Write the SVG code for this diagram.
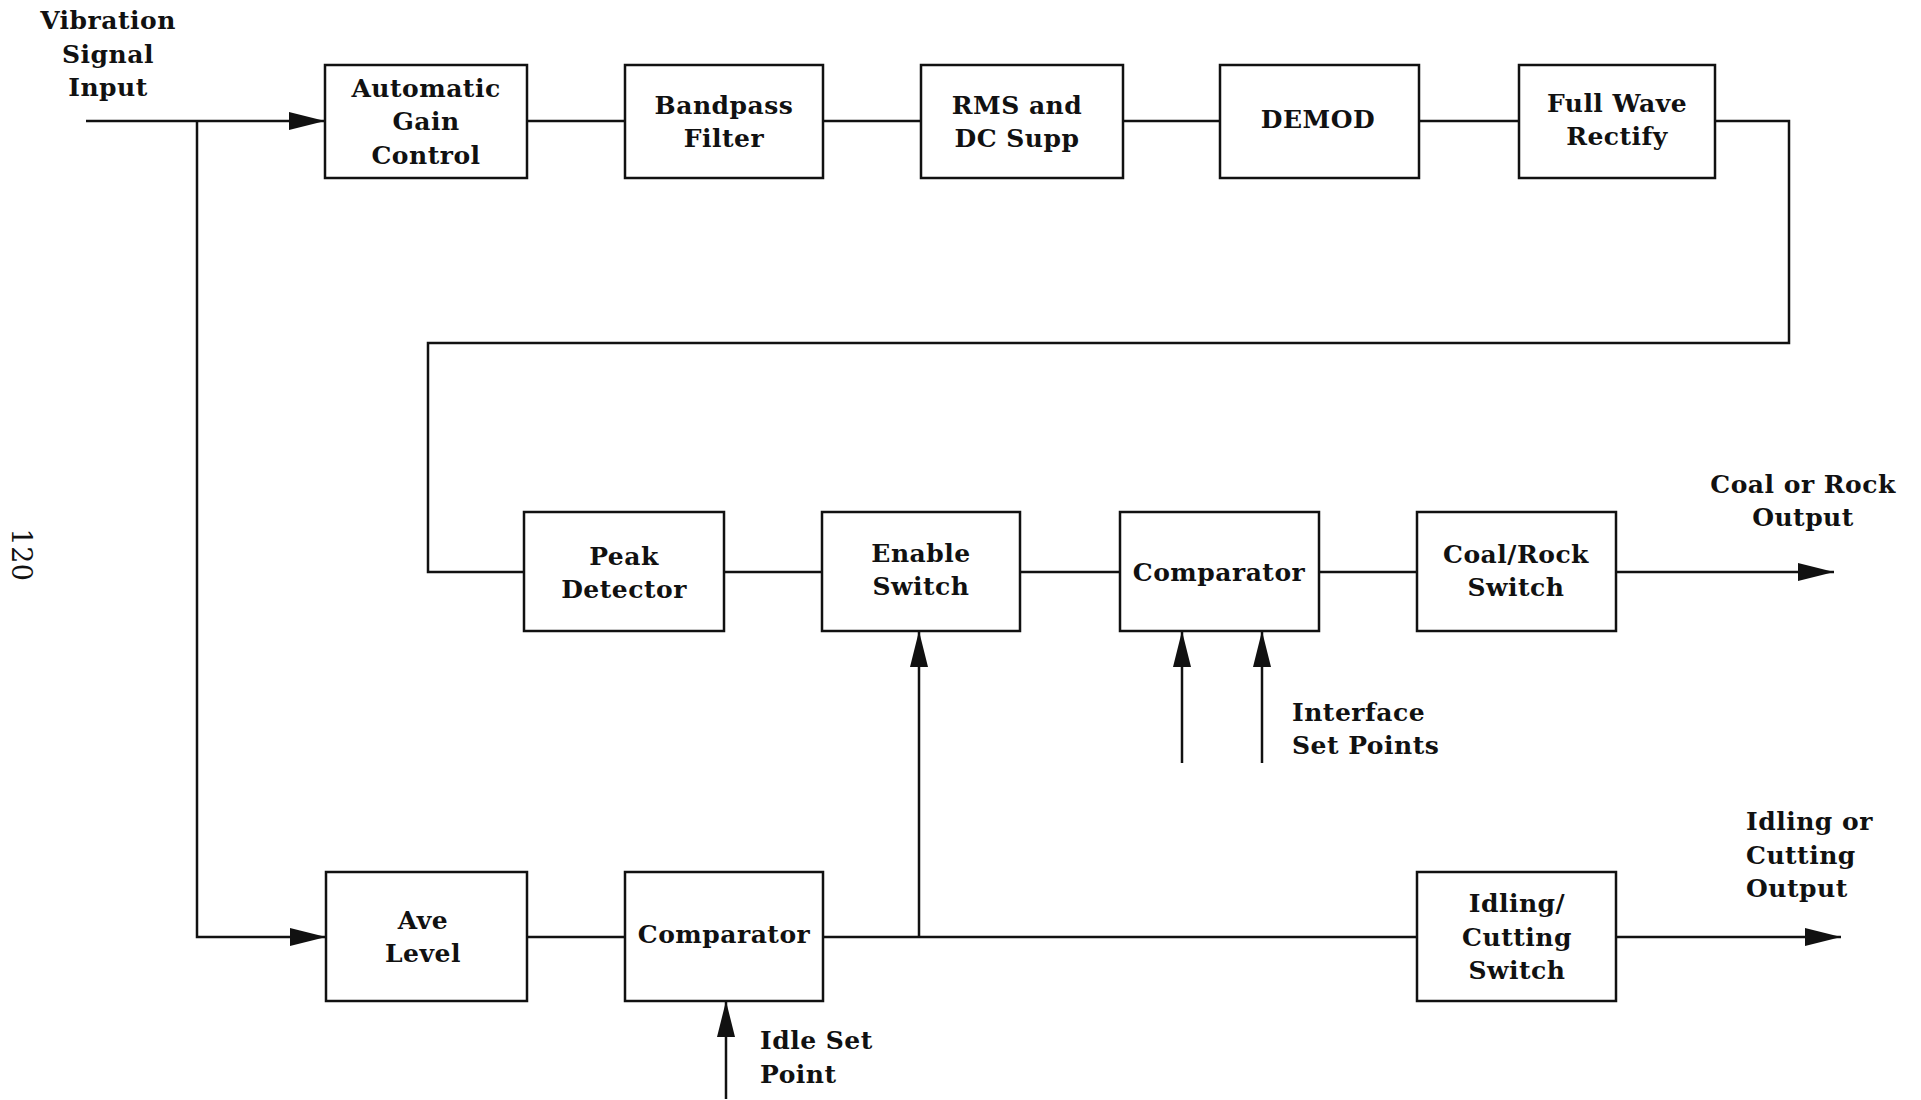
<svg xmlns="http://www.w3.org/2000/svg" width="1921" height="1100" viewBox="0 0 1921 1100">
<style>
.box{fill:#fff;stroke:#111;stroke-width:2.5}
.ln{fill:none;stroke:#111;stroke-width:2.5}
text{font-family:"DejaVu Serif","Liberation Serif",serif;font-size:25px;font-weight:bold;fill:#111;letter-spacing:0.5px}
.c{text-anchor:middle}
</style>
<defs>
<marker id="arr" viewBox="0 0 36 18" refX="36" refY="9" markerWidth="36" markerHeight="18" orient="auto" markerUnits="userSpaceOnUse">
<path d="M0,0 L36,9 L0,18 z" fill="#111"/>
</marker>
</defs>
<rect width="1921" height="1100" fill="#fff"/>
<g id="connectors">
<path class="ln" d="M86,121 H325" marker-end="url(#arr)"/>
<path class="ln" d="M197,121 V937 H326" marker-end="url(#arr)"/>
<path class="ln" d="M527,121 H625"/>
<path class="ln" d="M823,121 H921"/>
<path class="ln" d="M1123,121 H1220"/>
<path class="ln" d="M1419,121 H1519"/>
<path class="ln" d="M1715,121 H1789 V343 H428 V572 H524"/>
<path class="ln" d="M724,572 H822"/>
<path class="ln" d="M1020,572 H1120"/>
<path class="ln" d="M1319,572 H1417"/>
<path class="ln" d="M1616,572 H1834" marker-end="url(#arr)"/>
<path class="ln" d="M1182,763 V631" marker-end="url(#arr)"/>
<path class="ln" d="M1262,763 V631" marker-end="url(#arr)"/>
<path class="ln" d="M527,937 H625"/>
<path class="ln" d="M823,937 H1417"/>
<path class="ln" d="M919,937 V631" marker-end="url(#arr)"/>
<path class="ln" d="M1616,937 H1841" marker-end="url(#arr)"/>
<path class="ln" d="M726,1099 V1001" marker-end="url(#arr)"/>
</g>
<g id="agc"><rect class="box" x="325" y="65" width="202" height="113"/>
<text class="c" x="426" y="97">Automatic</text><text class="c" x="426" y="130">Gain</text><text class="c" x="426" y="164">Control</text></g>
<g id="bandpass"><rect class="box" x="625" y="65" width="198" height="113"/>
<text class="c" x="724" y="114">Bandpass</text><text class="c" x="724" y="147">Filter</text></g>
<g id="rms"><rect class="box" x="921" y="65" width="202" height="113"/>
<text class="c" x="1017" y="114">RMS and</text><text class="c" x="1017" y="147">DC Supp</text></g>
<g id="demod"><rect class="box" x="1220" y="65" width="199" height="113"/>
<text class="c" x="1318" y="128">DEMOD</text></g>
<g id="fullwave"><rect class="box" x="1519" y="65" width="196" height="113"/>
<text class="c" x="1617" y="112">Full Wave</text><text class="c" x="1617" y="145">Rectify</text></g>
<g id="peak"><rect class="box" x="524" y="512" width="200" height="119"/>
<text class="c" x="624" y="565">Peak</text><text class="c" x="624" y="598">Detector</text></g>
<g id="enable"><rect class="box" x="822" y="512" width="198" height="119"/>
<text class="c" x="921" y="562">Enable</text><text class="c" x="921" y="595">Switch</text></g>
<g id="comparator1"><rect class="box" x="1120" y="512" width="199" height="119"/>
<text class="c" x="1219" y="581">Comparator</text></g>
<g id="coalrock"><rect class="box" x="1417" y="512" width="199" height="119"/>
<text class="c" x="1516" y="563">Coal/Rock</text><text class="c" x="1516" y="596">Switch</text></g>
<g id="avelevel"><rect class="box" x="326" y="872" width="201" height="129"/>
<text class="c" x="423" y="929">Ave</text><text class="c" x="423" y="962">Level</text></g>
<g id="comparator2"><rect class="box" x="625" y="872" width="198" height="129"/>
<text class="c" x="724" y="943">Comparator</text></g>
<g id="idling"><rect class="box" x="1417" y="872" width="199" height="129"/>
<text class="c" x="1517" y="912">Idling/</text><text class="c" x="1517" y="946">Cutting</text><text class="c" x="1517" y="979">Switch</text></g>
<g id="labels">
<text class="c" x="108" y="29">Vibration</text><text class="c" x="108" y="63">Signal</text><text class="c" x="108" y="96">Input</text>
<text class="c" x="1803" y="493">Coal or Rock</text><text class="c" x="1803" y="526">Output</text>
<text x="1292" y="721">Interface</text><text x="1292" y="754">Set Points</text>
<text x="1746" y="830">Idling or</text><text x="1746" y="864">Cutting</text><text x="1746" y="897">Output</text>
<text x="760" y="1049">Idle Set</text><text x="760" y="1083">Point</text>
<text class="c" transform="translate(12,555) rotate(90)" style="font-size:27px;font-weight:normal">120</text>
</g>
</svg>
